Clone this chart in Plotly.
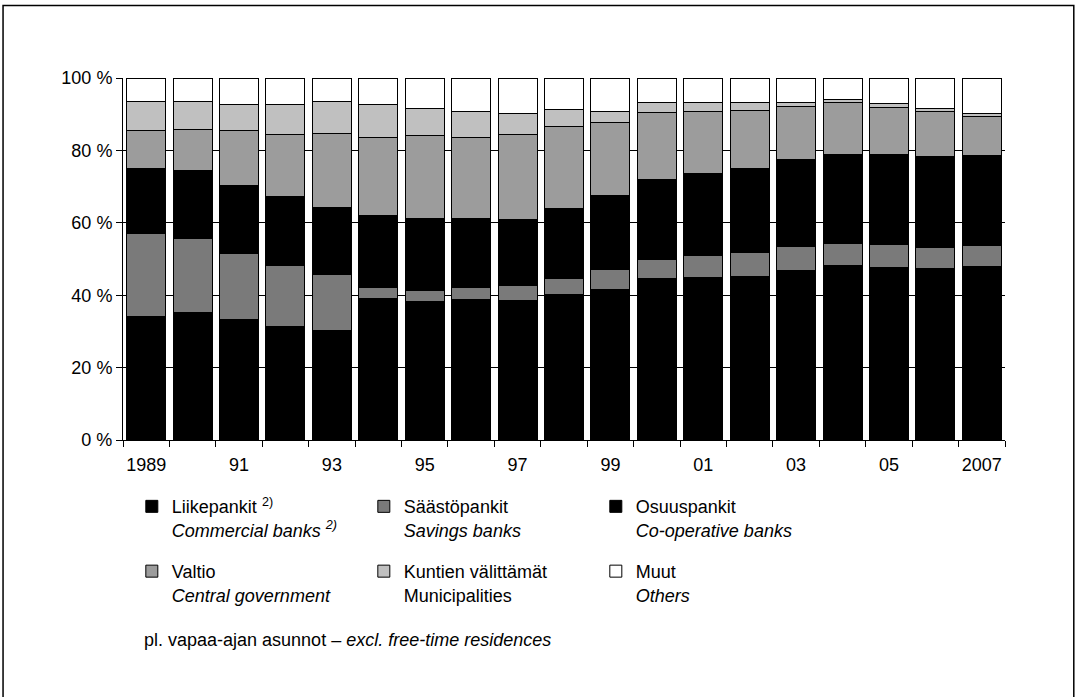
import plotly.graph_objects as go

years = list(range(1989, 2008))
label_years = [1989, 1991, 1993, 1995, 1997, 1999, 2001, 2003, 2005, 2007]
tick_text = ["1989", "91", "93", "95", "97", "99", "01", "03", "05", "2007"]
y_tick_vals = [0, 20, 40, 60, 80, 100]
y_tick_text = ["0 %", "20 %", "40 %", "60 %", "80 %", "100 %"]

liikepankit = [34.1, 35.3, 33.2, 31.3, 30.2, 39.2, 38.2, 38.7, 38.5, 40.2, 41.7, 44.5, 45.0, 45.3, 46.7, 48.1, 47.7, 47.3, 47.9]
saastopankit = [23.0, 20.3, 18.2, 16.8, 15.6, 2.9, 3.0, 3.4, 4.1, 4.5, 5.5, 5.5, 5.9, 6.6, 6.8, 6.3, 6.2, 6.0, 5.7]
osuuspankit = [17.8, 18.9, 18.9, 19.2, 18.4, 19.9, 19.9, 19.0, 18.4, 19.3, 20.4, 21.9, 22.8, 23.2, 24.1, 24.6, 25.1, 25.0, 24.9]
valtio = [10.6, 11.4, 15.1, 17.2, 20.6, 21.7, 23.0, 22.6, 23.3, 22.7, 20.1, 18.7, 17.1, 16.0, 14.6, 14.1, 12.9, 12.5, 10.9]
kuntien = [7.9, 7.5, 7.4, 8.1, 8.7, 9.1, 7.6, 7.1, 6.0, 4.5, 3.1, 2.5, 2.3, 2.0, 0.9, 0.9, 1.0, 0.9, 0.7]
muut = [6.6, 6.6, 7.2, 7.4, 6.5, 7.2, 8.3, 9.2, 9.7, 8.8, 9.2, 6.9, 6.9, 6.9, 6.9, 6.0, 7.1, 8.3, 9.9]

series_names = [
    "Liikepankit <sup>2)</sup><br><i>Commercial banks <sup>2)</sup></i>",
    "Säästöpankit<br><i>Savings banks</i>",
    "Osuuspankit<br><i>Co-operative banks</i>",
    "Valtio<br><i>Central government</i>",
    "Kuntien välittämät<br>Municipalities",
    "Muut<br><i>Others</i>",
]
series_values = [liikepankit, saastopankit, osuuspankit, valtio, kuntien, muut]
series_colors = ["#000000", "#7a7a7a", "#000000", "#9c9c9c", "#c0c0c0", "#ffffff"]
series_legend = ["legend", "legend", "legend", "legend2", "legend2", "legend2"]

FONT = "Liberation Sans, Arial, Helvetica, sans-serif"

# category boundaries (between consecutive years) for the x tick marks
boundaries = [years[0] - 0.5] + [y + 0.5 for y in years]

fig = go.Figure()
for name, vals, col, lg in zip(series_names, series_values, series_colors, series_legend):
    fig.add_trace(go.Bar(
        x=years, y=vals, name=name, legend=lg,
        marker=dict(color=col, line=dict(color="#000000", width=1)),
    ))

legend_common = dict(
    orientation="h", xanchor="left", yanchor="top",
    traceorder="normal", entrywidth=187, entrywidthmode="pixels",
    valign="top", font=dict(family=FONT, size=18, color="#000000"),
    bgcolor="rgba(0,0,0,0)", itemclick=False, itemdoubleclick=False,
)

fig.update_layout(
    width=1075, height=697,
    margin=dict(l=123, r=70, t=78, b=257),
    barmode="stack", bargap=0.16,
    plot_bgcolor="#ffffff", paper_bgcolor="#ffffff",
    font=dict(family=FONT, size=18, color="#000000"),
    showlegend=True,
    legend=dict(x=0.010, y=-0.133, **legend_common),
    legend2=dict(x=0.010, y=-0.312, **legend_common),
    xaxis=dict(
        range=[boundaries[0], boundaries[-1]],
        tickmode="array", tickvals=label_years, ticktext=tick_text,
        ticks="", tickangle=0, ticklabelstandoff=8,
        minor=dict(tickmode="array", tickvals=boundaries, ticks="outside",
                   ticklen=6, tickcolor="#000000", tickwidth=1, showgrid=False),
        showline=True, linecolor="#000000", linewidth=1, showgrid=False,
        zeroline=False, tickfont=dict(family=FONT, size=18),
    ),
    yaxis=dict(
        range=[0, 100], tickmode="array", tickvals=y_tick_vals, ticktext=y_tick_text,
        ticks="outside", ticklen=6, tickcolor="#000000",
        showline=True, linecolor="#000000", linewidth=1,
        showgrid=True, gridcolor="#000000", gridwidth=1, zeroline=False,
        tickfont=dict(family=FONT, size=18),
    ),
)

fig.add_shape(type="rect", xref="paper", yref="paper",
              x0=-0.136, x1=1.078, y0=-0.75, y1=1.2,
              line=dict(color="#000000", width=1.5), fillcolor="rgba(0,0,0,0)")

fig.add_annotation(xref="paper", yref="paper", x=0.022, y=-0.552,
                   xanchor="left", yanchor="middle", showarrow=False,
                   text="pl. vapaa-ajan asunnot – <i>excl. free-time residences</i>",
                   font=dict(family=FONT, size=18))

fig.write_html("out.html", config={"displayModeBar": False},
               post_script="document.body.style.margin='0';")
